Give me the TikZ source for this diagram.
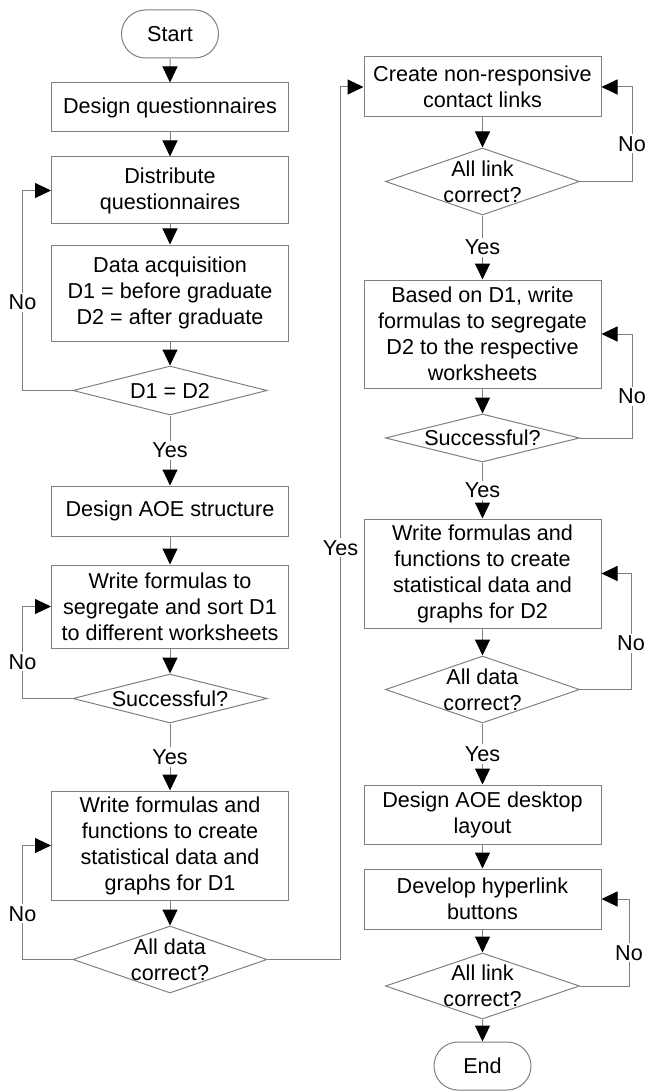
\documentclass[tikz,border=0pt]{standalone}
\usepackage{fontspec}
\setmainfont{Liberation Sans}
\usetikzlibrary{shapes.geometric,shapes.misc,arrows.meta}
\definecolor{linegray}{RGB}{128,128,128}

\begin{document}
\begin{tikzpicture}[x=0.5pt,y=-0.5pt,
		font=\fontsize{10.8pt}{13pt}\selectfont,
		box/.style={draw=linegray,line width=0.5pt,rectangle,minimum width=118.5pt,align=center,inner sep=0pt},
		term/.style={draw=linegray,line width=0.5pt,rounded rectangle,minimum width=48.5pt,minimum height=24pt,inner sep=0pt},
		test/.style={draw=linegray,line width=0.5pt,diamond,aspect=3,minimum width=97pt,align=center,inner xsep=-8pt,inner ysep=-3pt},
		flow/.style={draw=linegray,line width=0.5pt,-{Triangle[length=8pt,width=7.5pt,black]}},
		lbl/.style={fill=white,inner sep=1pt}]
		\useasboundingbox (0,0) rectangle (644,1091);

		\node[term] (start) at (170,34) {Start};
		\node[box,minimum height=24.5pt] (quest) at (170,107.5) {Design questionnaires};
		\node[box,minimum height=33.5pt] (dist) at (170,190.5) {Distribute\\questionnaires};
		\node[box,minimum height=48pt] (acq) at (170,293) {Data acquisition\\D1 = before graduate\\D2 = after graduate};
		\node[test,minimum height=24.5pt] (same) at (170,390.5) {D1 = D2};
		\node[box,minimum height=25pt] (aoe) at (170,511) {Design AOE structure};
		\node[box,minimum height=41.5pt] (sortone) at (170,606.5) {Write formulas to\\segregate and sort D1\\to different worksheets};
		\node[test,minimum height=24.5pt] (okone) at (170,698.5) {Successful?};
		\node[box,minimum height=54.5pt] (statone) at (170,845.5) {Write formulas and\\functions to create\\statistical data and\\graphs for D1};
		\node[test,minimum height=33.5pt] (dataone) at (170,959.5) {All data\\correct?};

		\node[box,minimum height=30pt] (contact) at (482.5,87) {Create non-responsive\\contact links};
		\node[test,minimum height=33.5pt] (linkone) at (482.5,181.5) {All link\\correct?};
		\node[box,minimum height=54pt] (sorttwo) at (482.5,334) {Based on D1, write\\formulas to segregate\\D2 to the respective\\worksheets};
		\node[test,minimum height=24pt] (oktwo) at (482.5,438) {Successful?};
		\node[box,minimum height=54.5pt] (stattwo) at (482.5,573.5) {Write formulas and\\functions to create\\statistical data and\\graphs for D2};
		\node[test,minimum height=33.5pt] (datatwo) at (482.5,689.5) {All data\\correct?};
		\node[box,minimum height=29.5pt] (desk) at (482.5,814.5) {Design AOE desktop\\layout};
		\node[box,minimum height=30pt] (hyper) at (482.5,899) {Develop hyperlink\\buttons};
		\node[test,minimum height=33pt] (linktwo) at (482.5,986) {All link\\correct?};
		\node[term] (end) at (482.5,1066) {End};

		\draw[flow] (start) -- (quest);
		\draw[flow] (quest) -- (dist);
		\draw[flow] (dist) -- (acq);
		\draw[flow] (acq) -- (same);
		\draw[flow] (same) -- node[lbl] {Yes} (aoe);
		\draw[flow] (same.west) -- ++(-50,0) |- node[lbl,pos=.22] {No} (dist.west);
		\draw[flow] (aoe) -- (sortone);
		\draw[flow] (sortone) -- (okone);
		\draw[flow] (okone) -- node[lbl] {Yes} (statone);
		\draw[flow] (okone.west) -- ++(-50,0) |- node[lbl,pos=.2] {No} (sortone.west);
		\draw[flow] (statone) -- (dataone);
		\draw[flow] (dataone.west) -- ++(-50,0) |- node[lbl,pos=.2] {No} (statone.west);
		\draw[flow] (dataone.east) -- ++(73,0) |- node[lbl,pos=.236] {Yes} (contact.west);

		\draw[flow] (contact) -- (linkone);
		\draw[flow] (linkone) -- node[lbl] {Yes} (sorttwo);
		\draw[flow] (linkone.east) -- ++(52,0) |- node[lbl,pos=.2] {No} (contact.east);
		\draw[flow] (sorttwo) -- (oktwo);
		\draw[flow] (oktwo) -- node[lbl] {Yes} (stattwo);
		\draw[flow] (oktwo.east) -- ++(52,0) |- node[lbl,pos=.2] {No} (sorttwo.east);
		\draw[flow] (stattwo) -- (datatwo);
		\draw[flow] (datatwo) -- node[lbl] {Yes} (desk);
		\draw[flow] (datatwo.east) -- ++(51,0) |- node[lbl,pos=.2] {No} (stattwo.east);
		\draw[flow] (desk) -- (hyper);
		\draw[flow] (hyper) -- (linktwo);
		\draw[flow] (linktwo.east) -- ++(49,0) |- node[lbl,pos=.19] {No} (hyper.east);
		\draw[flow] (linktwo) -- (end);
	\end{tikzpicture}
\end{document}
